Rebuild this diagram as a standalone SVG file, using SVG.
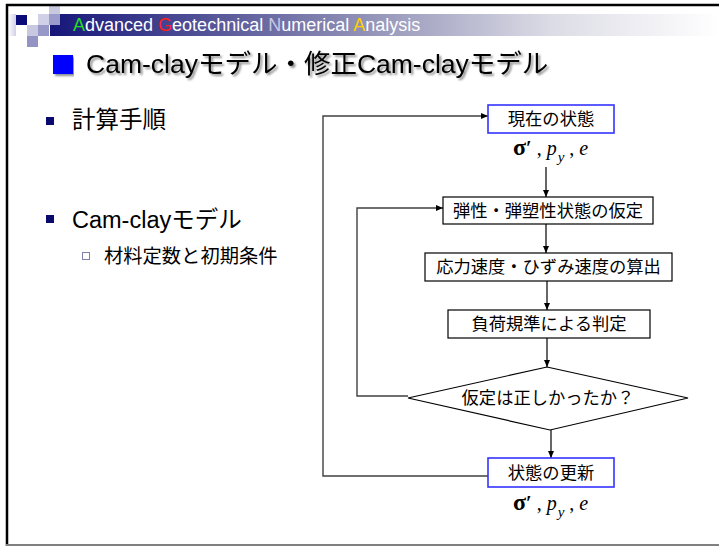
<svg xmlns="http://www.w3.org/2000/svg" width="719" height="546" viewBox="0 0 719 546">
<defs>
<linearGradient id="band" x1="0" y1="0" x2="1" y2="0">
<stop offset="0" stop-color="#16167a"/>
<stop offset="0.45" stop-color="#8c8cb4"/>
<stop offset="0.75" stop-color="#dcdce6"/>
<stop offset="1" stop-color="#ffffff"/>
</linearGradient>
<linearGradient id="lband" x1="0" y1="0" x2="1" y2="0">
<stop offset="0" stop-color="#ffffff"/>
<stop offset="1" stop-color="#d0d0e8"/>
</linearGradient>
<filter id="shadow" x="-5%" y="-20%" width="110%" height="150%">
<feGaussianBlur in="SourceAlpha" stdDeviation="1"/>
<feOffset dx="2" dy="2" result="b"/>
<feComponentTransfer><feFuncA type="linear" slope="0.45"/></feComponentTransfer>
<feMerge><feMergeNode/><feMergeNode in="SourceGraphic"/></feMerge>
</filter>
<marker id="arr" markerWidth="8" markerHeight="8" refX="7" refY="4" orient="auto" markerUnits="userSpaceOnUse">
<path d="M0,1 L7,4 L0,7 Z" fill="#000"/>
</marker>
</defs>
<style>
.jp{font-family:"Liberation Sans","Noto Sans CJK JP",sans-serif;}
.box{fill:#fff;stroke:#000;stroke-width:1.2;}
.bbox{fill:#fff;stroke:#3333ff;stroke-width:1.6;}
.ft{font-size:17.3px;fill:#000;text-anchor:middle;}
.math{font-family:"Liberation Serif",serif;font-size:20px;font-style:italic;}
.up{font-style:normal;}
.sig{font-style:normal;font-weight:bold;font-size:24px;}
.sub{font-size:15px;}
.conn{fill:none;stroke:#000;stroke-width:1.2;}
.loop{fill:none;stroke:#404040;stroke-width:1.4;}
</style>
<rect width="719" height="546" fill="#fff"/>
<!-- header -->
<g id="header">
<rect x="8" y="14" width="8" height="22" fill="url(#lband)"/>
<rect x="50" y="14" width="669" height="22" fill="url(#band)"/>
<rect x="16" y="15" width="11" height="10" fill="#0a0a78"/>
<rect x="38" y="14" width="11" height="11" fill="#d0d0e8"/>
<rect x="49" y="6" width="11" height="8" fill="#c8c8e0"/>
<rect x="49" y="14" width="11" height="11" fill="#9c9ccc"/>
<rect x="27" y="25" width="11" height="11" fill="#c8c8e0"/>
<rect x="38" y="25" width="11" height="11" fill="#9898c8"/>
<rect x="27" y="36" width="11" height="11" fill="#9494c4"/>
<text x="73" y="31" font-family="'Liberation Sans',sans-serif" font-size="18" fill="#ffffff"><tspan fill="#22dd22">A</tspan>dvanced <tspan fill="#ff2020">G</tspan>eotechnical <tspan fill="#c8c8e4">N</tspan>umerical <tspan fill="#ffd000">A</tspan>nalysis</text>
</g>
<line x1="6" y1="5" x2="719" y2="5" stroke="#000" stroke-width="2.5"/>
<line x1="7" y1="4" x2="7" y2="546" stroke="#000" stroke-width="2.5"/>
<line x1="6" y1="545" x2="719" y2="545" stroke="#808080" stroke-width="2"/>
<!-- title -->
<g id="title">
<rect x="53" y="55" width="20" height="19" fill="#0000ff" filter="url(#shadow)"/>
<text x="86" y="73" class="jp" font-size="26.5" fill="#000" filter="url(#shadow)">Cam-clayモデル・修正Cam-clayモデル</text>
</g>
<!-- bullets -->
<g id="bullets">
<rect x="46" y="117" width="8" height="8" fill="#0a0a6e"/>
<text x="72" y="128" class="jp" font-size="23.5" fill="#000">計算手順</text>
<rect x="46" y="215" width="8" height="8" fill="#0a0a6e"/>
<text x="72" y="228" class="jp" font-size="23.5" fill="#000">Cam-clayモデル</text>
<rect x="82.5" y="252.5" width="7" height="7" fill="none" stroke="#8080b0" stroke-width="1"/>
<text x="104" y="263" class="jp" font-size="19.3" fill="#000">材料定数と初期条件</text>
</g>
<!-- connectors -->
<g id="connectors">
<line class="conn" x1="546" y1="167" x2="546" y2="197" marker-end="url(#arr)"/>
<line class="conn" x1="546" y1="224" x2="546" y2="253" marker-end="url(#arr)"/>
<line class="conn" x1="547" y1="281" x2="547" y2="310" marker-end="url(#arr)"/>
<line class="conn" x1="547" y1="338" x2="547" y2="367" marker-end="url(#arr)"/>
<line class="conn" x1="551" y1="430" x2="551" y2="458" marker-end="url(#arr)"/>
<path class="loop" d="M488,476 H323 V116 H488" marker-end="url(#arr)"/>
<path class="loop" d="M408,396 H357 V208 H443" marker-end="url(#arr)"/>
</g>
<!-- nodes -->
<g id="current">
<rect class="bbox" x="488" y="105" width="126" height="28"/>
<text class="jp ft" x="551" y="125">現在の状態</text>
<text class="math" x="513" y="155"><tspan class="sig">σ</tspan><tspan class="up" font-weight="bold">′ </tspan><tspan class="up">, </tspan>p<tspan class="sub" dy="7" dx="1">y</tspan><tspan class="up" dy="-7"> , </tspan>e</text>
</g>
<g id="assume">
<rect class="box" x="443" y="197" width="210" height="27"/>
<text class="jp ft" x="548" y="217">弾性・弾塑性状態の仮定</text>
</g>
<g id="rates">
<rect class="box" x="425" y="253" width="247" height="28"/>
<text class="jp ft" x="548.5" y="273">応力速度・ひずみ速度の算出</text>
</g>
<g id="loading">
<rect class="box" x="448" y="310" width="202" height="28"/>
<text class="jp ft" x="549" y="330">負荷規準による判定</text>
</g>
<g id="check">
<polygon points="547,367 688,398 550,430 408,398" fill="#fff" stroke="#000" stroke-width="1.2"/>
<text class="jp ft" x="548" y="404">仮定は正しかったか？</text>
</g>
<g id="update">
<rect class="bbox" x="488" y="458" width="126" height="29"/>
<text class="jp ft" x="551" y="478.5">状態の更新</text>
<text class="math" x="513" y="510"><tspan class="sig">σ</tspan><tspan class="up" font-weight="bold">′ </tspan><tspan class="up">, </tspan>p<tspan class="sub" dy="7" dx="1">y</tspan><tspan class="up" dy="-7"> , </tspan>e</text>
</g>
</svg>
